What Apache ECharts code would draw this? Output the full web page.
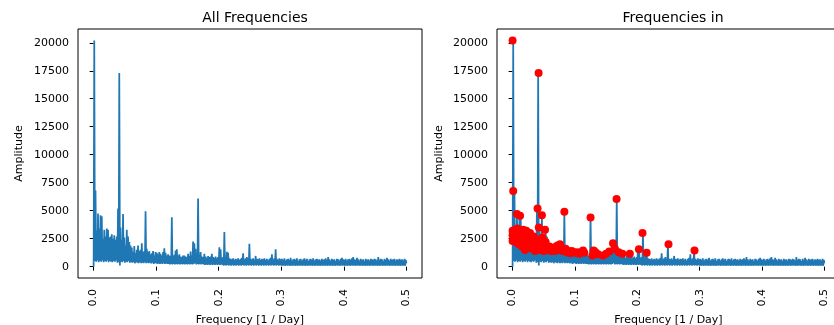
<!DOCTYPE html>
<html>
<head>
<meta charset="utf-8">
<script src="https://cdn.jsdelivr.net/npm/echarts@6/dist/echarts.min.js"></script>
<style>
html,body{margin:0;padding:0;background:#fff;}
#c{width:834px;height:325px;}
</style>
</head>
<body>
<div id="c"></div>
<script>
// Frequency bin spacing of the spectrum (1 / Day)
const binStep = 0.001;
// Amplitude at each frequency bin, 0.000 ... 0.500
const amplitude = [
0,20200,500,6800,450,3200,550,4750,400,3400,
500,4600,450,4500,550,2500,400,3300,500,2700,
450,3400,550,3300,400,2600,500,2700,450,2900,
400,2500,500,2800,450,2400,550,2700,350,5200,
400,17300,100,3500,450,2400,400,4700,500,2600,
350,1900,450,3300,400,2700,500,2200,350,1900,
400,1700,350,1300,400,1850,300,1200,400,1500,
350,1900,300,1400,400,1500,300,2100,350,1300,
300,1400,400,4950,300,1600,350,1300,300,1400,
350,1100,300,1200,350,1400,250,1000,300,1300,
300,1250,250,1100,300,1300,250,1150,300,1000,
250,1300,300,1650,250,1250,300,1000,250,1100,
250,1000,200,900,250,4420,200,950,250,1050,
200,1450,250,1560,200,1000,250,1100,200,900,
250,850,200,1000,250,1000,200,900,250,850,
200,1150,250,950,200,1350,250,1000,200,2240,
250,2100,300,1600,200,1100,250,6100,200,1000,
250,1300,200,900,250,850,200,1150,150,900,
200,800,150,950,200,850,150,900,200,1150,
150,850,200,800,150,900,200,750,150,850,
200,1740,150,1550,200,800,150,850,100,3100,
150,800,100,1340,150,1250,100,750,150,700,
100,650,150,750,100,600,150,700,100,650,
150,750,100,600,150,700,100,800,150,1200,
100,650,150,750,100,850,150,700,100,2050,
150,700,100,650,150,750,100,600,150,960,
100,700,150,650,100,750,150,600,100,700,
150,650,100,750,150,600,100,700,150,550,
100,700,150,800,100,1110,150,650,100,750,
150,1560,100,700,150,600,100,750,150,650,
100,700,80,600,120,750,80,550,120,650,
80,700,120,600,80,800,120,550,80,650,
120,700,80,600,120,750,80,500,120,650,
80,700,120,550,80,650,120,750,80,600,
120,700,80,500,120,650,80,700,120,600,
80,750,120,550,80,650,120,700,80,600,
120,650,80,550,120,700,80,600,120,650,
80,750,120,600,80,850,120,650,80,550,
120,700,80,600,120,650,80,500,120,700,
80,650,120,550,80,700,120,800,80,650,
120,600,80,700,120,550,80,650,120,700,
80,600,120,750,80,850,120,650,80,600,
120,800,80,650,120,550,80,700,120,600,
80,650,120,500,80,700,120,600,80,650,
120,550,80,700,120,650,80,600,120,700,
80,650,120,550,80,850,120,600,80,700,
120,650,80,500,120,700,80,600,120,800,
80,650,120,550,80,700,120,600,80,650,
120,700,80,550,120,650,80,600,120,700,
80,600,120,650,80,550,120,700,80,600,
300
];
// Detected peaks (red markers)
const peakFreq = [
0.000,0.001,0.000,0.000,0.000,0.002,0.004,0.005,0.007,0.008,
0.009,0.010,0.012,0.013,0.014,0.015,0.017,0.018,0.019,0.020,
0.022,0.023,0.025,0.026,0.028,0.029,0.031,0.032,0.034,0.035,
0.036,0.038,0.040,0.0417,0.042,0.043,0.044,0.045,0.047,0.048,
0.049,0.050,0.052,0.053,0.055,0.057,0.059,0.062,0.064,0.066,
0.068,0.070,0.072,0.074,0.076,0.078,0.080,0.083,0.085,0.087,
0.089,0.092,0.095,0.098,0.101,0.104,0.107,0.110,0.113,0.115,
0.125,0.128,0.130,0.133,0.137,0.145,0.150,0.155,0.161,0.164,
0.1667,0.170,0.176,0.188,0.2025,0.2083,0.215,0.250,0.2917
];
const peakAmp = [
20200,6750,3200,2800,2300,2600,3300,2200,4700,3400,
2900,2000,4550,3100,2500,1800,3300,2700,2200,1500,
3200,2600,2100,1700,3000,2500,2200,1600,2700,2000,
1400,2300,5200,17300,3500,1800,2400,1500,4600,2600,
1900,1400,3300,2200,1700,1500,1800,1400,1700,1600,
1400,1800,1900,1500,2000,1500,1400,4900,1600,1300,
1400,1200,1400,1300,1250,1300,1150,1300,1450,1250,
4400,1000,1450,1300,1100,1000,1150,1350,2100,1600,
6050,1300,1150,1150,1550,3000,1250,2000,1450
];
const xTicks = [0, 0.1, 0.2, 0.3, 0.4, 0.5];
const yTicks = [0, 2500, 5000, 7500, 10000, 12500, 15000, 17500, 20000];
const titles = ['All Frequencies', 'Frequencies in'];

const lineData = amplitude.map((v, i) => [i * binStep, v]);
const peakData = peakFreq.map((f, i) => [f, peakAmp[i]]);

const blue = '#1f77b4';
const font = 'DejaVu Sans';
const grids = [
  {left: 78, top: 29, width: 344, height: 249},
  {left: 497, top: 29, width: 343, height: 249}
];
function xAxis(idx) {
  return {
    type: 'value', gridIndex: idx, min: -0.025, max: 0.525,
    name: 'Frequency [1 / Day]', nameLocation: 'middle', nameGap: 28,
    nameTextStyle: {fontFamily: font, fontSize: 11, color: '#000'},
    axisLine: {show: false},
    splitLine: {show: false},
    axisTick: {show: true, length: 4, customValues: xTicks, lineStyle: {color: '#000'}},
    axisLabel: {customValues: xTicks, rotate: 90, margin: 11, fontFamily: font, fontSize: 11, color: '#000',
      formatter: v => v.toFixed(1)}
  };
}
function yAxis(idx, gap) {
  return {
    type: 'value', gridIndex: idx, min: -1011, max: 21230,
    name: 'Amplitude', nameLocation: 'middle', nameGap: gap, nameRotate: 90,
    nameTextStyle: {fontFamily: font, fontSize: 11, color: '#000'},
    axisLine: {show: false},
    splitLine: {show: false},
    axisTick: {show: true, length: 4, customValues: yTicks, lineStyle: {color: '#000'}},
    axisLabel: {customValues: yTicks, margin: 9, fontFamily: font, fontSize: 11, color: '#000',
      formatter: v => String(v)}
  };
}
const chart = echarts.init(document.getElementById('c'), null, {renderer: 'canvas'});
chart.setOption({
  animation: false,
  backgroundColor: '#fff',
  title: [
    {text: titles[0], left: 250, top: 6, textAlign: 'center',
     textStyle: {fontFamily: font, fontSize: 14, fontWeight: 'normal', color: '#000'}},
    {text: titles[1], left: 668, top: 6, textAlign: 'center',
     textStyle: {fontFamily: font, fontSize: 14, fontWeight: 'normal', color: '#000'}}
  ],
  grid: grids.map(g => Object.assign({show: true, borderColor: '#000', borderWidth: 1,
    backgroundColor: 'transparent', containLabel: false, outerBoundsMode: 'none'}, g)),
  xAxis: [xAxis(0), xAxis(1)],
  yAxis: [yAxis(0, 53), yAxis(1, 52)],
  series: [
    {type: 'line', xAxisIndex: 0, yAxisIndex: 0, data: lineData, showSymbol: false,
     lineStyle: {color: blue, width: 1.75}, itemStyle: {color: blue}},
    {type: 'line', xAxisIndex: 1, yAxisIndex: 1, data: lineData, showSymbol: false,
     lineStyle: {color: blue, width: 1.75}, itemStyle: {color: blue}},
    {type: 'scatter', xAxisIndex: 1, yAxisIndex: 1, data: peakData, symbolSize: 8,
     itemStyle: {color: '#ff0000', opacity: 1}, z: 5}
  ]
});
</script>
</body>
</html>
